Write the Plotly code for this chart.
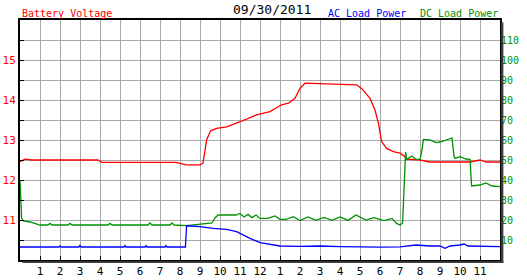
import plotly.graph_objects as go

# ---- data (hours since midnight) ----
volt_hours = [0, 0.25, 0.6, 3.9, 4.1, 7.8, 8.3, 9.0, 9.15, 9.22, 9.33, 9.53, 9.83, 10.33,
              10.83, 11.33, 11.83, 12.5, 13.08, 13.42, 13.75, 14.0, 14.25, 15.5, 16.83,
              17.08, 17.5, 17.75, 17.92, 18.08, 18.33, 18.67, 19.0, 19.25, 19.33, 20.0,
              20.5, 22.5, 23.0, 23.3, 24.0]
volt_values = [12.46, 12.52, 12.5, 12.5, 12.44, 12.44, 12.38, 12.38, 12.42, 12.7, 13.0,
               13.23, 13.29, 13.33, 13.42, 13.52, 13.63, 13.71, 13.88, 13.92, 14.04, 14.29,
               14.42, 14.40, 14.38, 14.29, 14.04, 13.75, 13.42, 12.96, 12.79, 12.71, 12.67,
               12.58, 12.52, 12.5, 12.45, 12.45, 12.5, 12.45, 12.45]

ac_hours = [0, 1.95, 2.0, 2.05, 2.95, 3.0, 3.05, 5.2, 5.25, 5.3, 6.25, 6.3, 6.35, 7.25,
            7.3, 7.35, 8.27, 8.33, 8.6, 9.0, 9.65, 10.33, 10.83, 11.5, 12.0, 12.5, 13.0,
            14.0, 15.0, 16.0, 17.0, 18.0, 19.0, 19.8, 20.5, 21.0, 21.25, 21.5, 22.0, 22.2,
            22.4, 23.0, 24.0]
ac_values = [6.5, 6.5, 7.0, 6.5, 6.5, 7.5, 6.5, 6.5, 7.2, 6.5, 6.5, 7.2, 6.5, 6.5, 7.2,
             6.5, 6.5, 17.0, 17.0, 16.7, 15.8, 15.3, 14.2, 10.8, 8.7, 7.8, 7.0, 6.8, 7.0,
             6.7, 6.5, 6.4, 6.6, 7.5, 7.0, 7.0, 5.8, 7.0, 7.5, 8.0, 7.0, 6.9, 6.7]

dc_hours = [0, 0.08, 0.17, 0.5, 1.0, 1.4, 1.5, 1.6, 2.4, 2.5, 2.6, 4.4, 4.5, 4.6, 6.4,
            6.5, 6.6, 7.5, 7.6, 7.7, 8.33, 9.0, 9.6, 9.75, 9.9, 10.8, 11.0, 11.2, 11.4,
            11.6, 11.8, 12.0, 12.4, 12.75, 13.0, 13.3, 13.67, 14.0, 14.4, 14.8, 15.2,
            15.6, 16.0, 16.4, 16.8, 17.3, 17.7, 18.2, 18.6, 18.83, 19.0, 19.13, 19.2,
            19.28, 19.33, 19.6, 19.8, 20.0, 20.1, 20.17, 20.5, 20.8, 21.0, 21.3, 21.6,
            21.7, 21.75, 22.0, 22.3, 22.5, 22.58, 23.0, 23.3, 23.6, 24.0]
dc_values = [40, 21, 19.5, 19, 17.5, 17.5, 18.3, 17.5, 17.5, 18.3, 17.5, 17.5, 18.3, 17.5,
             17.5, 18.5, 17.5, 17.5, 18.5, 17.5, 17.2, 17.8, 18.5, 21, 22.5, 22.5, 23.3,
             21.5, 22.8, 21.2, 22.5, 20.8, 20.8, 22.0, 20.3, 20.3, 21.7, 19.7, 21.5, 19.8,
             21.3, 19.8, 21.5, 19.8, 22.5, 20.0, 21.2, 19.7, 20.8, 18.3, 17.5, 18.5, 35,
             54, 50.3, 52, 50.3, 50.3, 55, 60.3, 60, 58.7, 59, 60, 61, 52, 50.8, 51.7,
             50.5, 50.3, 37, 37.5, 38.5, 37, 36.7]

x_tickvals = list(range(1, 24))
x_ticktext = [str(h) for h in range(1, 13)] + [str(h) for h in range(1, 12)]
left_tickvals = [10.5 + 0.5 * i for i in range(11)]
left_ticktext = ["", "11", "", "12", "", "13", "", "14", "", "15", ""]
right_tickvals = list(range(10, 120, 10))

RED = "#ff0000"
BLUE = "#0000ff"
GREEN = "#009100"
MONO = "DejaVu Sans Mono"

fig = go.Figure()
fig.add_trace(go.Scatter(x=dc_hours, y=dc_values, yaxis="y2", mode="lines",
                         line=dict(color=GREEN, width=1.3), showlegend=False))
fig.add_trace(go.Scatter(x=ac_hours, y=ac_values, yaxis="y2", mode="lines",
                         line=dict(color=BLUE, width=1.3), showlegend=False))
fig.add_trace(go.Scatter(x=volt_hours, y=volt_values, yaxis="y", mode="lines",
                         line=dict(color=RED, width=1.3), showlegend=False))

fig.update_layout(
    width=527, height=280,
    margin=dict(l=20, r=27, t=20, b=20, autoexpand=False),
    paper_bgcolor="white", plot_bgcolor="white",
    xaxis=dict(range=[0, 24], tickvals=x_tickvals, ticktext=x_ticktext,
               showgrid=True, gridcolor="#a9a9a9", gridwidth=1,
               ticks="inside", ticklen=4, tickcolor="black", tickwidth=1,
               showline=True, linecolor="black", linewidth=2, mirror=True,
               tickfont=dict(family=MONO, size=11, color="black"), zeroline=False,
               automargin=False, fixedrange=True),
    yaxis=dict(range=[10, 16], tickvals=left_tickvals, ticktext=left_ticktext,
               showgrid=True, gridcolor="#a9a9a9", gridwidth=1,
               ticks="inside", ticklen=4, tickcolor="black", tickwidth=1,
               showline=True, linecolor="black", linewidth=2, mirror=True,
               tickfont=dict(family=MONO, size=11, color=RED), zeroline=False,
               automargin=False),
    yaxis2=dict(range=[0, 120], tickvals=right_tickvals, overlaying="y", side="right",
                showgrid=False, zeroline=False, ticks="", automargin=False,
                tickfont=dict(family=MONO, size=10, color=GREEN)),
    annotations=[
        dict(text="Battery Voltage", xref="paper", yref="paper", x=0.0, y=1.029,
             xanchor="left", yanchor="middle", showarrow=False,
             font=dict(family=MONO, size=10, color=RED)),
        dict(text="09/30/2011", xref="paper", yref="paper", x=0.526, y=1.042,
             xanchor="center", yanchor="middle", showarrow=False,
             font=dict(family=MONO, size=13, color="black")),
        dict(text="AC Load Power", xref="paper", yref="paper", x=0.808, y=1.029,
             xanchor="right", yanchor="middle", showarrow=False,
             font=dict(family=MONO, size=10, color=BLUE)),
        dict(text="DC Load Power", xref="paper", yref="paper", x=0.999, y=1.029,
             xanchor="right", yanchor="middle", showarrow=False,
             font=dict(family=MONO, size=10, color=GREEN)),
    ],
    shapes=[
        dict(type="rect", xref="paper", yref="paper", x0=1.002, x1=1.007, y0=-0.012, y1=0.99,
             fillcolor="#3a3a3a", line=dict(width=0), layer="above"),
        dict(type="rect", xref="paper", yref="paper", x0=0.005, x1=1.007, y0=-0.012, y1=-0.004,
             fillcolor="#3a3a3a", line=dict(width=0), layer="above"),
    ],
)

fig.write_html("out.html")
